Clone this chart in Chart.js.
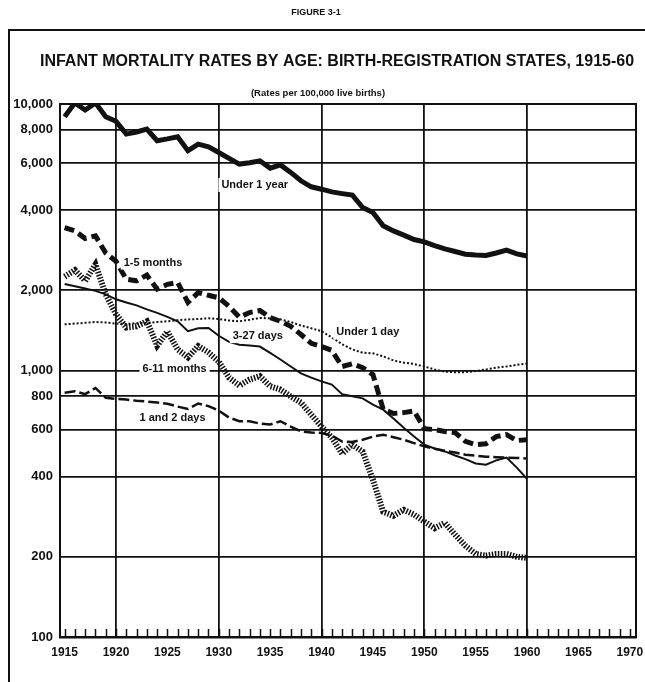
<!DOCTYPE html>
<html>
<head>
<meta charset="utf-8">
<title>Infant mortality rates by age, 1915-60</title>
<script src="https://cdn.jsdelivr.net/npm/chart.js@4.4.1/dist/chart.umd.min.js"></script>
<style>
  html, body { margin: 0; padding: 0; background: #fff; }
  #wrap { position: relative; width: 645px; height: 682px; }
</style>
</head>
<body>
<div id="wrap"><canvas id="myChart"></canvas></div>
<script>
// years on the chart
const years = [
  1915, 1916, 1917, 1918, 1919, 1920, 1921, 1922, 1923, 1924,
  1925, 1926, 1927, 1928, 1929, 1930, 1931, 1932, 1933, 1934,
  1935, 1936, 1937, 1938, 1939, 1940, 1941, 1942, 1943, 1944,
  1945, 1946, 1947, 1948, 1949, 1950, 1951, 1952, 1953, 1954,
  1955, 1956, 1957, 1958, 1959, 1960
];

// rates per 100,000 live births
const underOneYear = [
  8960, 10100, 9490, 10100, 8960, 8610, 7710, 7850, 8050, 7280,
  7400, 7540, 6680, 7070, 6910, 6580, 6250, 5950, 6020, 6120,
  5745, 5910, 5540, 5150, 4890, 4790, 4680, 4610, 4550, 4090,
  3920, 3490, 3340, 3220, 3100, 3040, 2940, 2860, 2795, 2730,
  2710, 2700, 2760, 2830, 2740, 2690
];
const oneToFiveMonths = [
  3440, 3340, 3130, 3200, 2760, 2570, 2200, 2170, 2280, 2020,
  2105, 2140, 1800, 1960, 1915, 1875, 1740, 1585, 1650, 1680,
  1580, 1530, 1465, 1365, 1265, 1230, 1190, 1035, 1060, 1025,
  965, 715, 690, 695, 705, 605, 600, 590, 585, 542,
  527, 531, 565, 575, 546, 550
];
const underOneDay = [
  1490, 1500, 1510, 1520, 1515, 1500, 1495, 1505, 1510, 1520,
  1530, 1545, 1555, 1560, 1570, 1560, 1540, 1530, 1550, 1575,
  1570, 1555, 1520, 1475, 1440, 1405, 1330, 1255, 1200, 1166,
  1160, 1130, 1090, 1070, 1058, 1035, 1009, 990, 985, 986,
  995, 1009, 1025, 1035, 1050, 1062
];
const threeTo27Days = [
  2110, 2070, 2030, 1990, 1930, 1850, 1800, 1755, 1696, 1645,
  1590, 1530, 1405, 1440, 1445, 1350, 1280, 1250, 1242, 1230,
  1165, 1100, 1035, 975, 940, 910, 885, 815, 800, 786,
  745, 713, 660, 610, 565, 527, 510, 497, 480, 465,
  448, 443, 460, 471, 432, 392
];
const sixTo11Months = [
  2250, 2380, 2170, 2500, 1930, 1625, 1450, 1465, 1530, 1240,
  1400, 1200, 1120, 1235, 1170, 1080, 940, 878, 925, 952,
  873, 848, 800, 758, 683, 616, 560, 487, 527, 496,
  389, 295, 285, 300, 288, 271, 256, 268, 242, 220,
  205, 202, 205, 205, 200, 198
];
const oneAndTwoDays = [
  825, 836, 815, 860, 790, 783, 778, 770, 765, 758,
  750, 732, 717, 752, 735, 707, 666, 645, 645, 632,
  627, 645, 616, 591, 585, 583, 570, 541, 539, 550,
  565, 574, 562, 550, 534, 519, 509, 500, 492, 483,
  479, 475, 473, 471, 470, 467
];

const yTicks = [100, 200, 400, 600, 800, 1000, 2000, 4000, 6000, 8000, 10000];
const xTicks = [1915, 1920, 1925, 1930, 1935, 1940, 1945, 1950, 1955, 1960, 1965, 1970];

// text labels placed on the curves: [text, year, rate]
const curveLabels = [
  ["Under 1 year", 1933.5, 4970],
  ["1-5 months", 1923.6, 2540],
  ["Under 1 day", 1944.5, 1393],
  ["3-27 days", 1933.8, 1346],
  ["6-11 months", 1925.7, 1015],
  ["1 and 2 days", 1925.5, 664]
];

const figureNo = "FIGURE 3-1";
const titleText = "INFANT MORTALITY RATES BY AGE: BIRTH-REGISTRATION STATES, 1915-60";
const unitText = "(Rates per 100,000 live births)";

const ink = "#111";
const fam = "'Liberation Sans', Arial, sans-serif";

function points(values) {
  return values.map((v, i) => ({ x: years[i], y: v }));
}

function series(label, values, width, dash) {
  return {
    label: label,
    data: points(values),
    borderColor: ink,
    borderWidth: width,
    borderDash: dash,
    pointRadius: 0,
    tension: 0,
    fill: false
  };
}

const paperPlugin = {
  id: "paper",
  beforeDraw(chart) {
    const c = chart.ctx;
    c.save();
    c.fillStyle = "#fff";
    c.fillRect(0, 0, chart.width, chart.height);
    c.restore();
  },
  afterDatasetsDraw(chart) {
    const c = chart.ctx;
    const xs = chart.scales.x;
    const ys = chart.scales.y;
    c.save();
    c.font = "bold 11px " + fam;
    c.textAlign = "center";
    c.textBaseline = "middle";
    curveLabels.forEach(([text, yr, val]) => {
      const px = xs.getPixelForValue(yr);
      const py = ys.getPixelForValue(val);
      const w = c.measureText(text).width;
      c.fillStyle = "#fff";
      c.fillRect(px - w / 2 - 3, py - 7, w + 6, 14);
      c.fillStyle = ink;
      c.fillText(text, px, py);
    });
    c.restore();
  },
  afterDraw(chart) {
    const c = chart.ctx;
    const a = chart.chartArea;
    const xs = chart.scales.x;
    c.save();
    c.strokeStyle = ink;
    // outer figure box
    c.lineWidth = 2;
    c.beginPath();
    c.moveTo(9, chart.height);
    c.lineTo(9, 30);
    c.lineTo(chart.width, 30);
    c.stroke();
    // plot frame
    c.strokeRect(a.left, a.top, a.right - a.left, a.bottom - a.top);
    // year tick marks standing up from the base line
    c.lineWidth = 1.5;
    for (let yr = 1915; yr <= 1970; yr++) {
      const px = Math.round(xs.getPixelForValue(yr)) + 0.5;
      c.beginPath();
      c.moveTo(px, a.bottom);
      c.lineTo(px, a.bottom - 8);
      c.stroke();
    }
    // headings
    c.fillStyle = ink;
    c.textAlign = "center";
    c.textBaseline = "middle";
    c.font = "bold 9px " + fam;
    c.fillText(figureNo, 316, 13);
    c.font = "bold 16px " + fam;
    c.fillText(titleText, 337, 62);
    c.font = "bold 9.5px " + fam;
    c.fillText(unitText, 318, 93);
    c.restore();
  }
};

const ctx = document.getElementById("myChart");

new Chart(ctx, {
  type: "line",
  data: {
    datasets: [
      series("Under 1 year", underOneYear, 5, []),
      series("1-5 months", oneToFiveMonths, 5, [10, 5]),
      series("Under 1 day", underOneDay, 2, [2, 2]),
      series("3-27 days", threeTo27Days, 2, []),
      series("6-11 months", sixTo11Months, 6, [1.5, 1.5]),
      series("1 and 2 days", oneAndTwoDays, 2.5, [11, 4])
    ]
  },
  options: {
    responsive: true,
    maintainAspectRatio: false,
    animation: false,
    layout: { padding: { top: 104, right: 9, bottom: 0, left: 0 } },
    plugins: {
      legend: { display: false },
      tooltip: { enabled: false }
    },
    scales: {
      x: {
        type: "linear",
        min: 1914.55,
        max: 1970.6,
        afterBuildTicks: (s) => { s.ticks = xTicks.map((v) => ({ value: v })); },
        afterFit: (s) => { s.height = 45; s.paddingLeft = 0; s.paddingRight = 0; },
        ticks: {
          autoSkip: false,
          maxRotation: 0,
          padding: 8,
          color: ink,
          font: { family: fam, size: 12, weight: "bold" },
          callback: (v) => String(v)
        },
        grid: {
          drawTicks: false,
          lineWidth: 1.8,
          color: (c) => (c.tick && c.tick.value % 10 === 0 && c.tick.value < 1970) ? ink : "rgba(0,0,0,0)"
        },
        border: { display: true, color: ink, width: 2.5 }
      },
      y: {
        type: "logarithmic",
        min: 100,
        max: 10000,
        afterBuildTicks: (s) => { s.ticks = yTicks.map((v) => ({ value: v })); },
        afterFit: (s) => { s.width = 60; s.paddingTop = 0; s.paddingBottom = 0; },
        ticks: {
          padding: 7,
          color: ink,
          font: { family: fam, size: 13, weight: "bold" },
          callback: (v) => Number(v).toLocaleString("en-US")
        },
        grid: { drawTicks: false, lineWidth: 1.8, color: ink },
        border: { display: true, color: ink, width: 2 }
      }
    }
  },
  plugins: [paperPlugin]
});
</script>
</body>
</html>
